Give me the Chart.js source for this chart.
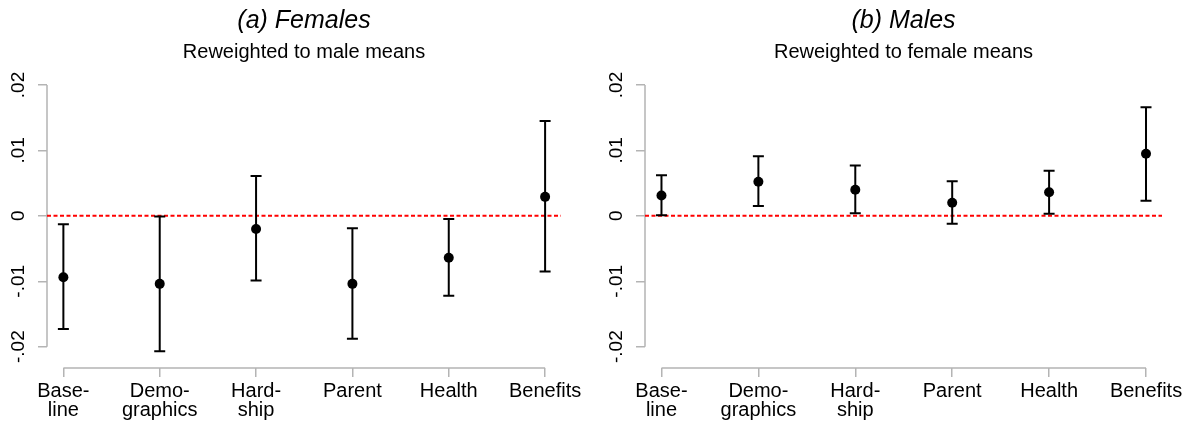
<!DOCTYPE html>
<html>
<head>
<meta charset="utf-8">
<script src="https://cdn.jsdelivr.net/npm/chart.js@4/dist/chart.umd.min.js"></script>
<style>
  body { margin: 0; background: #fff; }
  .panel { position: absolute; top: 0; width: 592px; height: 425px; }
</style>
</head>
<body>
<div class="panel" style="left:0"><canvas id="females" width="592" height="425"></canvas></div>
<div class="panel" style="left:592px"><canvas id="males" width="592" height="425"></canvas></div>
<script>
const categories = [['Base-', 'line'], ['Demo-', 'graphics'], ['Hard-', 'ship'], ['Parent'], ['Health'], ['Benefits']]
const yTickValues = [-0.02, -0.01, 0, 0.01, 0.02]
const yTickLabels = ['-.02', '-.01', '0', '.01', '.02']

// point estimates and 95% CI ends
const femaleEst = [-0.0094, -0.0104, -0.0020, -0.0104, -0.0064, 0.0029]
const femaleLo = [-0.0173, -0.0207, -0.0099, -0.0188, -0.0122, -0.0085]
const femaleHi = [-0.0013, -0.0001, 0.0061, -0.0019, -0.0005, 0.0145]

const maleEst = [0.0031, 0.0052, 0.0040, 0.0020, 0.0036, 0.0095]
const maleLo = [0.0001, 0.0015, 0.0004, -0.0012, 0.0003, 0.0023]
const maleHi = [0.0062, 0.0091, 0.0077, 0.0053, 0.0069, 0.0166]

Chart.defaults.font.family = "'Liberation Sans', Arial, sans-serif"
Chart.defaults.color = '#000'

const axisGray = '#b4b4b4'

// stata-style axis lines that stop at the outer ticks
const axisLines = {
  id: 'axisLines',
  beforeDatasetsDraw(chart) {
    const ctx = chart.ctx
    const x = chart.scales.x
    const y = chart.scales.y
    const area = chart.chartArea
    ctx.save()
    ctx.strokeStyle = axisGray
    ctx.lineWidth = 1.5
    ctx.beginPath()
    ctx.moveTo(area.left, y.getPixelForValue(yTickValues[yTickValues.length - 1]))
    ctx.lineTo(area.left, y.getPixelForValue(yTickValues[0]))
    ctx.moveTo(x.getPixelForValue(0), area.bottom)
    ctx.lineTo(x.getPixelForValue(categories.length - 1), area.bottom)
    ctx.stroke()
    ctx.restore()
  }
}

// capped error bars, drawn right after the zero line so points sit on top
const errorBars = {
  id: 'errorBars',
  afterDatasetDraw(chart, args, opts) {
    if (args.meta.type !== 'line') return
    const ctx = chart.ctx
    const x = chart.scales.x
    const y = chart.scales.y
    ctx.save()
    ctx.strokeStyle = '#000'
    ctx.lineWidth = 2
    ctx.beginPath()
    opts.lo.forEach((lo, i) => {
      const px = x.getPixelForValue(i)
      const top = y.getPixelForValue(opts.hi[i])
      const bot = y.getPixelForValue(lo)
      ctx.moveTo(px, top)
      ctx.lineTo(px, bot)
      ctx.moveTo(px - 5.5, top)
      ctx.lineTo(px + 5.5, top)
      ctx.moveTo(px - 5.5, bot)
      ctx.lineTo(px + 5.5, bot)
    })
    ctx.stroke()
    ctx.restore()
  }
}

function makePanel(id, title, subtitle, est, lo, hi, yWidth, padRight) {
  return new Chart(document.getElementById(id).getContext('2d'), {
    type: 'scatter',
    data: {
      datasets: [
        {
          data: est.map((v, i) => ({ x: i, y: v })),
          backgroundColor: '#000',
          borderWidth: 0,
          pointRadius: 5,
          order: 0
        },
        {
          type: 'line',
          data: [{ x: -0.17, y: 0 }, { x: 5.165, y: 0 }],
          borderColor: '#ff0000',
          borderWidth: 2,
          borderDash: [4, 2.5],
          pointRadius: 0,
          order: 2
        }
      ]
    },
    options: {
      responsive: false,
      animation: false,
      devicePixelRatio: 1,
      layout: { padding: { left: 0, right: padRight, top: 0, bottom: 0 } },
      plugins: {
        legend: { display: false },
        tooltip: { enabled: false },
        title: {
          display: true,
          text: title,
          fullSize: false,
          color: '#000',
          font: { size: 25, style: 'italic', weight: 'normal' },
          padding: { top: 6.5, bottom: 0 }
        },
        subtitle: {
          display: true,
          text: subtitle,
          fullSize: false,
          color: '#000',
          font: { size: 20 },
          padding: { top: 3.5, bottom: 21 }
        },
        errorBars: { lo: lo, hi: hi }
      },
      scales: {
        x: {
          type: 'linear',
          min: -0.17,
          max: 5.165,
          afterBuildTicks: s => { s.ticks = categories.map((c, i) => ({ value: i })) },
          afterFit: s => { s.height = 57; s.paddingLeft = 0; s.paddingRight = 0 },
          border: { display: false },
          grid: { drawOnChartArea: false, drawTicks: true, tickLength: 9, color: axisGray, lineWidth: 1.5 },
          ticks: {
            autoSkip: false,
            maxRotation: 0,
            padding: 5,
            font: { size: 20, lineHeight: 0.95 },
            color: '#000',
            callback: v => categories[v]
          }
        },
        y: {
          min: -0.02326,
          max: 0.02,
          afterBuildTicks: s => { s.ticks = yTickValues.map(v => ({ value: v })) },
          afterFit: s => { s.width = yWidth },
          border: { display: false },
          grid: { drawOnChartArea: false, drawTicks: true, tickLength: 9, color: axisGray, lineWidth: 1.5 },
          ticks: {
            minRotation: 90,
            maxRotation: 90,
            crossAlign: 'center',
            padding: 3,
            font: { size: 19 },
            color: '#000',
            callback: v => yTickLabels[yTickValues.indexOf(v)]
          }
        }
      }
    },
    plugins: [axisLines, errorBars]
  })
}

makePanel('females', '(a) Females', 'Reweighted to male means', femaleEst, femaleLo, femaleHi, 47, 31)
makePanel('males', '(b) Males', 'Reweighted to female means', maleEst, maleLo, maleHi, 53, 22)
</script>
</body>
</html>
